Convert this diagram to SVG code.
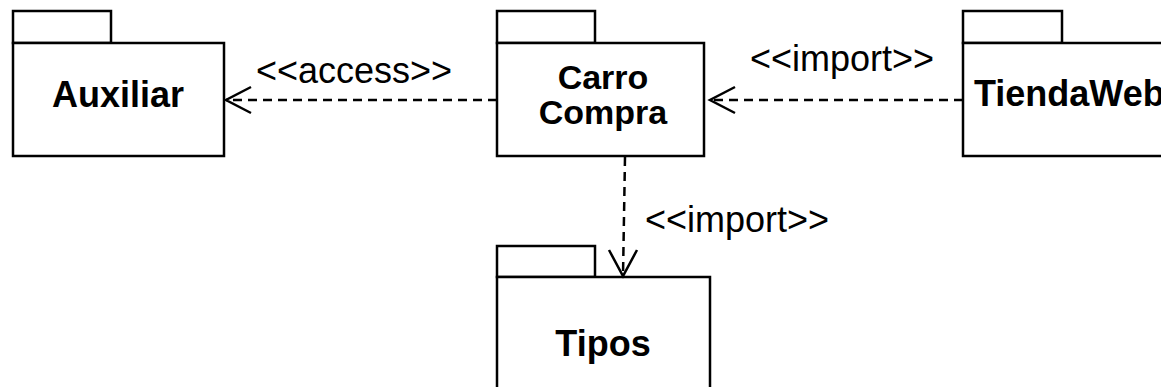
<svg xmlns="http://www.w3.org/2000/svg" width="1161" height="387" viewBox="0 0 1161 387">
<style>
.box{fill:#fff;stroke:#000;stroke-width:2.5}
.name{font-family:"Liberation Sans",Arial,sans-serif;font-weight:bold;font-size:36px;text-anchor:middle;fill:#000}
.lbl{font-family:"Liberation Sans",Arial,sans-serif;font-size:36px;fill:#000;text-anchor:middle}
.dep{fill:none;stroke:#000;stroke-width:2.5;stroke-dasharray:9 6}
.head{fill:none;stroke:#000;stroke-width:2.5}
</style>
<rect width="1161" height="387" fill="#fff"/>
<g id="Auxiliar">
<rect class="box" x="13" y="11" width="98" height="32"/>
<rect class="box" x="13" y="43" width="211" height="113"/>
<text class="name" x="118" y="107">Auxiliar</text>
</g>
<g id="CarroCompra">
<rect class="box" x="497" y="11" width="98" height="32"/>
<rect class="box" x="497" y="43" width="207" height="113"/>
<text class="name" x="603" y="89" style="font-size:34px">Carro</text>
<text class="name" x="603" y="124" style="font-size:34px">Compra</text>
</g>
<g id="TiendaWeb">
<rect class="box" x="963" y="11" width="99" height="32"/>
<rect class="box" x="963" y="43" width="220" height="113"/>
<text class="name" x="974" y="106" style="text-anchor:start">TiendaWeb</text>
</g>
<g id="Tipos">
<rect class="box" x="497" y="246" width="98" height="31"/>
<rect class="box" x="497" y="277" width="213" height="130"/>
<text class="name" x="603" y="356">Tipos</text>
</g>
<g id="connectors">
<line class="dep" x1="497" y1="100" x2="226" y2="100"/>
<polyline class="head" points="251,87 226,100 251,113"/>
<text class="lbl" x="354" y="83">&lt;&lt;access&gt;&gt;</text>
<line class="dep" x1="963" y1="100" x2="710" y2="100"/>
<polyline class="head" points="735,87 710,100 735,113"/>
<text class="lbl" x="842" y="71">&lt;&lt;import&gt;&gt;</text>
<line class="dep" x1="625" y1="157" x2="623" y2="276"/>
<polyline class="head" points="609,250 623,276 637,250"/>
<text class="lbl" x="737" y="232">&lt;&lt;import&gt;&gt;</text>
</g>
</svg>
